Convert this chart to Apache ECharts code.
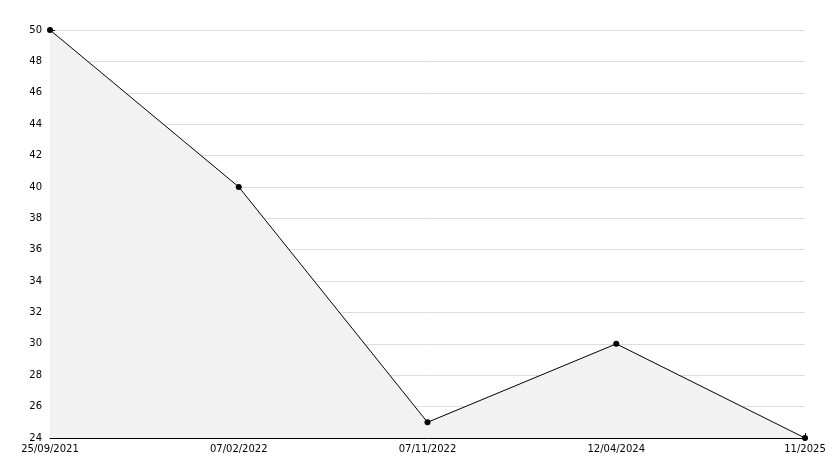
<!DOCTYPE html>
<html>
<head>
<meta charset="utf-8">
<script src="https://cdn.jsdelivr.net/npm/echarts@6/dist/echarts.min.js"></script>
<style>html,body{margin:0;padding:0;background:#fff}#c{width:834px;height:468px}</style>
</head>
<body>
<div id="c"></div>
<script>
const categories = ['25/09/2021', '07/02/2022', '07/11/2022', '12/04/2024', '11/2025'];
const values = [50, 40, 25, 30, 24];
const yMin = 24, yMax = 50, yStep = 2;

const chart = echarts.init(document.getElementById('c'), null, {renderer: 'canvas'});
const font = {fontFamily: 'DejaVu Sans', fontSize: 10, color: '#000'};
chart.setOption({
  animation: false,
  backgroundColor: '#fff',
  grid: {left: 50, right: 29, top: 30, bottom: 30, containLabel: false},
  xAxis: {
    type: 'category',
    data: categories,
    boundaryGap: false,
    axisLine: {show: true, lineStyle: {color: '#000', width: 1}},
    axisTick: {show: true, inside: true, length: 5, lineStyle: {color: '#000'}},
    axisLabel: Object.assign({margin: 6, interval: 0}, font),
    splitLine: {show: false}
  },
  yAxis: {
    type: 'value',
    min: yMin, max: yMax, interval: yStep,
    axisLine: {show: true, lineStyle: {color: '#000', width: 1}},
    axisTick: {show: true, inside: true, length: 5, lineStyle: {color: '#000'}},
    minorTick: {show: true, splitNumber: 2, length: 5, lineStyle: {color: '#000'}},
    axisLabel: Object.assign({margin: 8}, font),
    splitLine: {show: true, lineStyle: {color: '#dddddd', width: 1}}
  },
  series: [{
    type: 'line',
    data: values,
    symbol: 'circle',
    symbolSize: 6,
    itemStyle: {color: '#000'},
    lineStyle: {color: '#000', width: 1},
    areaStyle: {color: '#f2f2f2', opacity: 1, origin: 'start'}
  }]
});
</script>
</body>
</html>
